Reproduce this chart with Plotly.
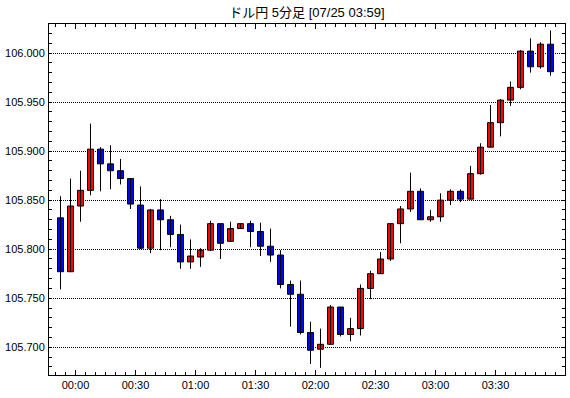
import plotly.graph_objects as go

times = ["23:50", "23:55", "00:00", "00:05", "00:10", "00:15", "00:20", "00:25", "00:30", "00:35",
         "00:40", "00:45", "00:50", "00:55", "01:00", "01:05", "01:10", "01:15", "01:20", "01:25",
         "01:30", "01:35", "01:40", "01:45", "01:50", "01:55", "02:00", "02:05", "02:10", "02:15",
         "02:20", "02:25", "02:30", "02:35", "02:40", "02:45", "02:50", "02:55", "03:00", "03:05",
         "03:10", "03:15", "03:20", "03:25", "03:30", "03:35", "03:40", "03:45", "03:50", "03:55"]

open_ = [105.832, 105.777, 105.844, 105.860, 105.902, 105.887, 105.880, 105.872, 105.845, 105.801,
         105.840, 105.830, 105.815, 105.787, 105.792, 105.799, 105.826, 105.808, 105.821, 105.826,
         105.818, 105.803, 105.794, 105.764, 105.754, 105.715, 105.698, 105.703, 105.741, 105.713,
         105.719, 105.760, 105.775, 105.790, 105.826, 105.841, 105.859, 105.830, 105.833, 105.850,
         105.859, 105.851, 105.877, 105.904, 105.929, 105.952, 105.965, 106.002, 105.986, 106.009]
high = [105.854, 105.872, 105.880, 105.928, 105.904, 105.906, 105.892, 105.872, 105.864, 105.841,
        105.851, 105.834, 105.825, 105.810, 105.801, 105.829, 105.826, 105.828, 105.826, 105.829,
        105.827, 105.821, 105.799, 105.768, 105.768, 105.726, 105.719, 105.743, 105.741, 105.730,
        105.764, 105.778, 105.797, 105.826, 105.844, 105.878, 105.862, 105.840, 105.857, 105.861,
        105.861, 105.885, 105.908, 105.947, 105.953, 105.971, 106.003, 106.015, 106.011, 106.023]
low = [105.759, 105.777, 105.828, 105.855, 105.859, 105.861, 105.866, 105.841, 105.800, 105.796,
       105.799, 105.802, 105.780, 105.780, 105.782, 105.798, 105.790, 105.808, 105.821, 105.802,
       105.793, 105.787, 105.760, 105.721, 105.713, 105.683, 105.679, 105.703, 105.711, 105.706,
       105.712, 105.749, 105.775, 105.788, 105.806, 105.838, 105.830, 105.828, 105.828, 105.845,
       105.848, 105.851, 105.876, 105.904, 105.915, 105.946, 105.963, 105.980, 105.984, 105.977]
close = [105.777, 105.844, 105.860, 105.902, 105.887, 105.880, 105.872, 105.846, 105.801, 105.840,
         105.830, 105.815, 105.787, 105.793, 105.799, 105.826, 105.806, 105.821, 105.826, 105.818,
         105.803, 105.794, 105.764, 105.754, 105.715, 105.697, 105.703, 105.741, 105.713, 105.719,
         105.760, 105.775, 105.790, 105.826, 105.841, 105.859, 105.830, 105.833, 105.850, 105.859,
         105.851, 105.877, 105.904, 105.929, 105.952, 105.965, 106.002, 105.986, 106.009, 105.981]

tick_labels = ["00:00", "00:30", "01:00", "01:30", "02:00", "02:30", "03:00", "03:30"]
y_ticks = [105.70, 105.75, 105.80, 105.85, 105.90, 105.95, 106.00]
title_text = "ドル円 5分足 [07/25 03:59]"

UP_COLOR = "#FF0000"
DOWN_COLOR = "#0000FF"


def to_min(t):
    h, m = map(int, t.split(":"))
    if h >= 12:
        h -= 24
    return h * 60 + m


# each 5-minute candle is centred in the middle of its period
xs = [to_min(t) + 2.5 for t in times]
tick_vals = [to_min(t) for t in tick_labels]

# wicks
wx, wy = [], []
for x, h, l in zip(xs, high, low):
    wx += [x, x, None]
    wy += [l, h, None]

body_base = [min(o, c) for o, c in zip(open_, close)]
body_len = [max(abs(c - o), 0.0004) for o, c in zip(open_, close)]
body_col = [UP_COLOR if c >= o else DOWN_COLOR for o, c in zip(open_, close)]

fig = go.Figure()
fig.add_trace(go.Scatter(x=wx, y=wy, mode="lines", line=dict(color="black", width=1),
                         hoverinfo="skip", showlegend=False))
fig.add_trace(go.Bar(x=xs, y=body_len, base=body_base, width=3.0,
                     marker=dict(color=body_col, line=dict(color="black", width=1)),
                     hoverinfo="skip", showlegend=False))

font_family = "Liberation Sans, Arial, Noto Sans CJK JP, sans-serif"

fig.update_layout(
    width=570, height=398,
    margin=dict(l=49, r=5, t=24, b=23, autoexpand=False),
    paper_bgcolor="white", plot_bgcolor="white",
    barmode="overlay",
    showlegend=False,
    hovermode=False,
    font=dict(family=font_family, size=11, color="black"),
    title=dict(text=title_text, x=0.5385, xanchor="center", y=0.968, yanchor="middle",
               font=dict(family=font_family, size=13, color="black")),
)

fig.update_xaxes(
    range=[-13.25, 244.75], automargin=False,
    tickmode="array", tickvals=tick_vals, ticktext=tick_labels,
    ticks="inside", ticklen=5, tickcolor="black", tickwidth=1,
    minor=dict(tickmode="linear", tick0=0, dtick=5, ticks="inside", ticklen=3,
               tickcolor="black", tickwidth=1, showgrid=False),
    showline=True, linecolor="black", linewidth=1, mirror="allticks",
    showgrid=False, zeroline=False,
    tickfont=dict(size=11),
)

fig.update_yaxes(
    range=[105.6717, 106.0296], automargin=False,
    tickmode="array", tickvals=y_ticks, tickformat=".3f",
    ticks="inside", ticklen=3, tickcolor="black", tickwidth=1,
    minor=dict(tickmode="linear", tick0=105.70, dtick=0.01, ticks="inside", ticklen=3,
               tickcolor="black", tickwidth=1, showgrid=False),
    showline=True, linecolor="black", linewidth=1, mirror="allticks",
    showgrid=True, gridcolor="black", gridwidth=1, griddash="1px,1px",
    zeroline=False, ticklabelstandoff=1,
    tickfont=dict(size=11),
)

fig.write_html("out.html", config={"displayModeBar": False, "staticPlot": True},
               post_script="document.body.style.margin='0';")
